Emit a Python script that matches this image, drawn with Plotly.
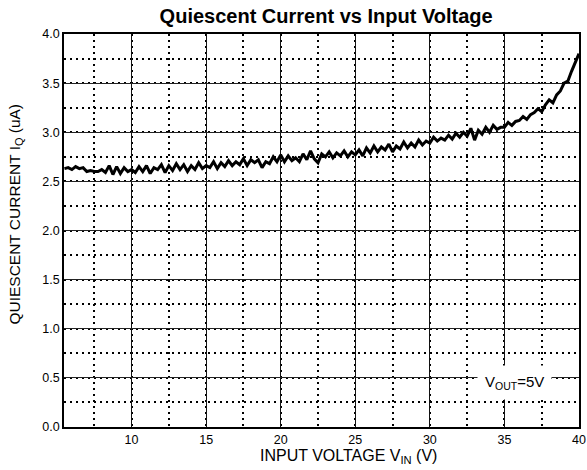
import plotly.graph_objects as go

title_text = "Quiescent Current vs Input Voltage"
x_title = "INPUT VOLTAGE V<sub>IN</sub> (V)"
y_title = "QUIESCENT CURRENT I<sub>Q</sub> (uA)"
note_text = "V<sub>OUT</sub>=5V"

x_start = 5.5
x_step = 0.25
iq_ua = [
    2.63, 2.64,
    2.62, 2.65, 2.63, 2.64,
    2.60, 2.61, 2.60, 2.60,
    2.62, 2.59, 2.66, 2.57,
    2.65, 2.58, 2.64, 2.60,
    2.62, 2.59, 2.65, 2.60,
    2.66, 2.58, 2.64, 2.62,
    2.67, 2.59, 2.66, 2.61,
    2.68, 2.62, 2.67, 2.60,
    2.66, 2.62, 2.69, 2.63,
    2.66, 2.64, 2.70, 2.63,
    2.69, 2.65, 2.71, 2.66,
    2.70, 2.67, 2.73, 2.66,
    2.72, 2.69, 2.72, 2.64,
    2.70, 2.68, 2.75, 2.70,
    2.77, 2.70, 2.76, 2.71,
    2.74, 2.70, 2.78, 2.72,
    2.81, 2.73, 2.69, 2.78,
    2.75, 2.80, 2.74, 2.79,
    2.76, 2.81, 2.75, 2.80,
    2.77, 2.82, 2.76, 2.84,
    2.79, 2.86, 2.80, 2.85,
    2.82, 2.88, 2.80, 2.86,
    2.83, 2.90, 2.84, 2.89,
    2.85, 2.92, 2.87, 2.91,
    2.89, 2.95, 2.91, 2.94,
    2.92, 2.97, 2.93, 2.99,
    2.95, 3.00, 2.96, 3.04,
    2.92, 3.02, 2.98, 3.05,
    3.00, 3.07, 3.03, 3.05,
    3.05, 3.10, 3.07, 3.11,
    3.12, 3.16, 3.13, 3.18,
    3.20, 3.24, 3.21, 3.28,
    3.33, 3.30, 3.38, 3.42,
    3.50, 3.52, 3.62, 3.72,
    3.80,
]
vin = [x_start + i * x_step for i in range(len(iq_ua))]

x_ticks = [10, 15, 20, 25, 30, 35, 40]
y_ticks = [0.0, 0.5, 1.0, 1.5, 2.0, 2.5, 3.0, 3.5, 4.0]

font_family = "Arial, Liberation Sans, sans-serif"

fig = go.Figure()
fig.add_trace(go.Scatter(x=vin, y=iq_ua, mode="lines",
                         line=dict(color="black", width=3),
                         showlegend=False, hoverinfo="skip"))

fig.add_annotation(x=35.68, y=0.45, xref="x", yref="y", text=note_text,
                   showarrow=False, bgcolor="white", borderpad=7,
                   font=dict(family=font_family, size=15, color="black"))

# axis titles (placed as in the reference)
fig.add_annotation(x=0.553, y=-0.076, xref="paper", yref="paper",
                   text=x_title, showarrow=False, xanchor="center", yanchor="middle",
                   font=dict(family=font_family, size=16, color="black"))
fig.add_annotation(x=-0.094, y=0.542, xref="paper", yref="paper",
                   text=y_title, showarrow=False, textangle=-90,
                   xanchor="center", yanchor="middle",
                   font=dict(family=font_family, size=15.5, color="black"))

fig.update_layout(
    width=587, height=470,
    margin=dict(l=64, r=8, t=34, b=43),
    paper_bgcolor="white", plot_bgcolor="white",
    font=dict(family=font_family, size=12, color="black"),
    title=dict(text="<b>" + title_text + "</b>", xref="paper", x=0.509,
               xanchor="center", y=0.967, yanchor="middle",
               font=dict(family=font_family, size=20, color="black")),
)

fig.update_xaxes(
    automargin=False,
    range=[5.47, 40], tickvals=x_ticks, ticktext=[str(v) for v in x_ticks],
    showgrid=True, gridcolor="#111111", gridwidth=1.3,
    showline=True, linecolor="black", linewidth=1.5, mirror=True,
    ticks="", zeroline=False,
    minor=dict(dtick=2.5, tick0=0, showgrid=True, gridcolor="black",
               griddash="1.5px,4.5px", gridwidth=1.5),
    tickfont=dict(size=12.5),
)
fig.update_yaxes(
    automargin=False,
    range=[0, 4], tickvals=y_ticks, ticktext=[f"{v:.1f}" for v in y_ticks],
    showgrid=True, gridcolor="#222222", gridwidth=1.3,
    showline=True, linecolor="black", linewidth=1.5, mirror=True,
    ticks="", zeroline=False,
    minor=dict(dtick=0.25, tick0=0, showgrid=True, gridcolor="black",
               griddash="1.5px,4.5px", gridwidth=1.5),
    tickfont=dict(size=12.5),
)

fig.write_html("out.html", config={"displayModeBar": False},
               post_script="document.body.style.margin='0';document.body.style.overflow='hidden';")
